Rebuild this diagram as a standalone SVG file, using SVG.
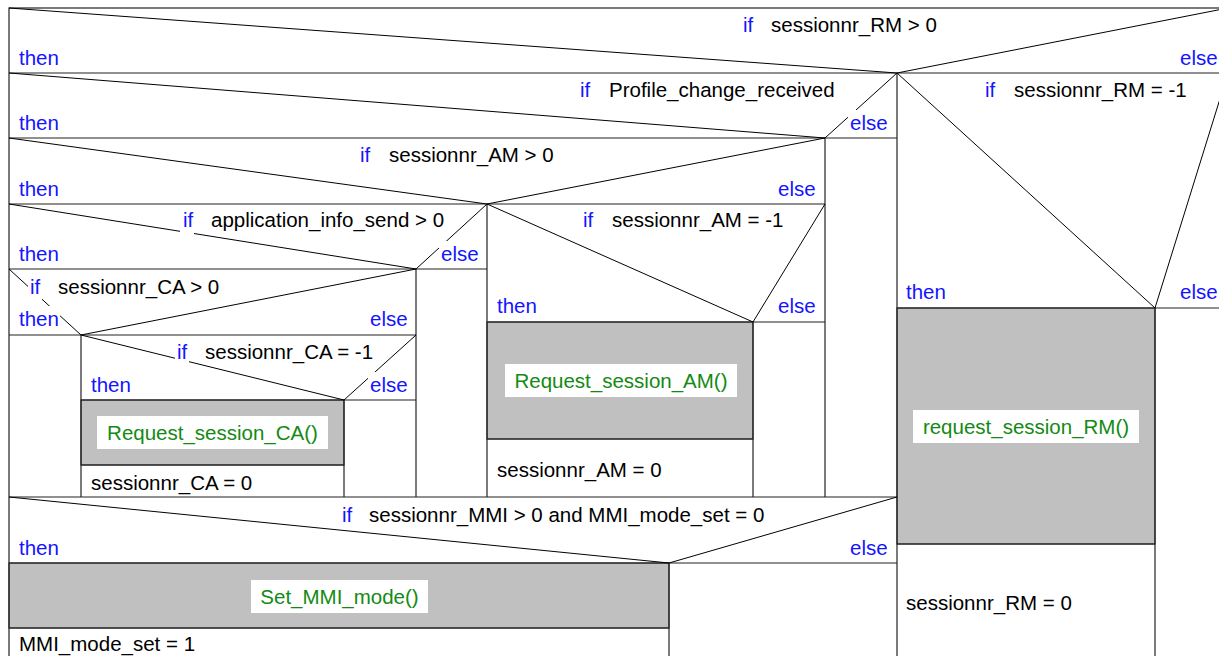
<svg xmlns="http://www.w3.org/2000/svg" width="1219" height="656" viewBox="0 0 1219 656">
<style>
text{font-family:"Liberation Sans",Arial,sans-serif;font-size:20.5px}
.kw{fill:#1414ff}
.tx{fill:#000}
.call{fill:#138a13}
.act{fill:#c0c0c0;stroke:#333;stroke-width:1.2}
.ln{stroke:#222;stroke-width:1.2;fill:none}
.dg{stroke:#000;stroke-width:1;fill:none}
.bg{fill:#fff;stroke:none}
</style>
<rect x="0" y="0" width="1219" height="656" fill="#fff"/>

<g id="actions">
  <rect class="act" x="81" y="400" width="263" height="65"/>
  <rect class="act" x="487" y="322" width="266" height="117"/>
  <rect class="act" x="897" y="308" width="258" height="236"/>
  <rect class="act" x="9" y="563" width="660" height="65"/>
</g>

<g id="structure">
  <rect class="ln" x="9" y="8" width="1219" height="653"/>
  <line class="ln" x1="9" y1="73" x2="1228" y2="73"/>
  <line class="ln" x1="897" y1="73" x2="897" y2="661"/>
  <line class="ln" x1="9" y1="138" x2="897" y2="138"/>
  <line class="ln" x1="825" y1="138" x2="825" y2="497"/>
  <line class="ln" x1="9" y1="204" x2="825" y2="204"/>
  <line class="ln" x1="487" y1="204" x2="487" y2="497"/>
  <line class="ln" x1="9" y1="269" x2="487" y2="269"/>
  <line class="ln" x1="416" y1="269" x2="416" y2="497"/>
  <line class="ln" x1="9" y1="335" x2="416" y2="335"/>
  <line class="ln" x1="81" y1="335" x2="81" y2="497"/>
  <line class="ln" x1="81" y1="400" x2="416" y2="400"/>
  <line class="ln" x1="344" y1="400" x2="344" y2="497"/>
  <line class="ln" x1="487" y1="322" x2="825" y2="322"/>
  <line class="ln" x1="753" y1="322" x2="753" y2="497"/>
  <line class="ln" x1="9" y1="497" x2="897" y2="497"/>
  <line class="ln" x1="9" y1="563" x2="897" y2="563"/>
  <line class="ln" x1="669" y1="563" x2="669" y2="661"/>
  <line class="ln" x1="9" y1="628" x2="669" y2="628"/>
  <line class="ln" x1="897" y1="308" x2="1228" y2="308"/>
  <line class="ln" x1="1155" y1="308" x2="1155" y2="661"/>
  <line class="ln" x1="897" y1="544" x2="1155" y2="544"/>
  <line class="ln" x1="81" y1="465" x2="344" y2="465"/>
  <line class="ln" x1="487" y1="439" x2="753" y2="439"/>
</g>

<g id="connectors">
  <polyline class="dg" points="9,8 897,73 1228,8"/>
  <polyline class="dg" points="9,73 825,138 897,73"/>
  <polyline class="dg" points="9,138 487,204 825,138"/>
  <polyline class="dg" points="9,204 416,269 487,204"/>
  <polyline class="dg" points="9,269 81,335 416,269"/>
  <polyline class="dg" points="81,335 344,400 416,335"/>
  <polyline class="dg" points="487,204 753,322 825,204"/>
  <polyline class="dg" points="897,73 1155,308 1228,73"/>
  <polyline class="dg" points="9,497 669,563 897,497"/>
</g>

<g id="label-bg">
  <rect class="bg" x="848" y="110" width="41" height="25"/>
  <rect class="bg" x="180" y="207" width="14" height="28"/>
  <rect class="bg" x="439" y="241" width="41" height="25"/>
  <rect class="bg" x="28" y="274" width="14" height="26"/>
  <rect class="bg" x="17" y="306" width="43" height="26"/>
  <rect class="bg" x="175" y="339" width="14" height="26"/>
  <rect class="bg" x="368" y="372" width="41" height="25"/>
</g>

<g id="cond-RM-gt0">
  <text class="kw" x="743" y="32">if</text>
  <text class="tx" x="771" y="32">sessionnr_RM &gt; 0</text>
  <text class="kw" x="19" y="65">then</text>
  <text class="kw" x="1180" y="65">else</text>
</g>
<g id="cond-profile">
  <text class="kw" x="580" y="97">if</text>
  <text class="tx" x="609" y="97">Profile_change_received</text>
  <text class="kw" x="19" y="130">then</text>
  <text class="kw" x="850" y="130">else</text>
</g>
<g id="cond-RM-m1">
  <text class="kw" x="985" y="97">if</text>
  <text class="tx" x="1014" y="97">sessionnr_RM = -1</text>
  <text class="kw" x="906" y="299">then</text>
  <text class="kw" x="1180" y="299">else</text>
</g>
<g id="cond-AM-gt0">
  <text class="kw" x="360" y="162">if</text>
  <text class="tx" x="389" y="162">sessionnr_AM &gt; 0</text>
  <text class="kw" x="19" y="196">then</text>
  <text class="kw" x="778" y="196">else</text>
</g>
<g id="cond-appinfo">
  <text class="kw" x="183" y="227">if</text>
  <text class="tx" x="211" y="227">application_info_send &gt; 0</text>
  <text class="kw" x="19" y="261">then</text>
  <text class="kw" x="441" y="261">else</text>
</g>
<g id="cond-AM-m1">
  <text class="kw" x="583" y="227">if</text>
  <text class="tx" x="612" y="227">sessionnr_AM = -1</text>
  <text class="kw" x="497" y="313">then</text>
  <text class="kw" x="778" y="313">else</text>
</g>
<g id="cond-CA-gt0">
  <text class="kw" x="30" y="294">if</text>
  <text class="tx" x="58" y="294">sessionnr_CA &gt; 0</text>
  <text class="kw" x="19" y="326">then</text>
  <text class="kw" x="370" y="326">else</text>
</g>
<g id="cond-CA-m1">
  <text class="kw" x="177" y="359">if</text>
  <text class="tx" x="205" y="359">sessionnr_CA = -1</text>
  <text class="kw" x="91" y="392">then</text>
  <text class="kw" x="370" y="392">else</text>
</g>
<g id="call-CA">
  <rect class="bg" x="97" y="416" width="231" height="33"/>
  <text class="call" x="212.5" y="440" text-anchor="middle">Request_session_CA()</text>
</g>
<g id="stmt-CA">
  <text class="tx" x="91" y="490">sessionnr_CA = 0</text>
</g>
<g id="call-AM">
  <rect class="bg" x="505" y="364" width="232" height="33"/>
  <text class="call" x="621" y="388" text-anchor="middle">Request_session_AM()</text>
</g>
<g id="stmt-AM">
  <text class="tx" x="497" y="477">sessionnr_AM = 0</text>
</g>
<g id="call-RM">
  <rect class="bg" x="913" y="410" width="226" height="33"/>
  <text class="call" x="1026" y="434" text-anchor="middle">request_session_RM()</text>
</g>
<g id="stmt-RM">
  <text class="tx" x="906" y="610">sessionnr_RM = 0</text>
</g>
<g id="cond-MMI">
  <text class="kw" x="342" y="522">if</text>
  <text class="tx" x="369" y="522">sessionnr_MMI &gt; 0 and MMI_mode_set = 0</text>
  <text class="kw" x="19" y="555">then</text>
  <text class="kw" x="850" y="555">else</text>
</g>
<g id="call-MMI">
  <rect class="bg" x="251" y="580" width="177" height="33"/>
  <text class="call" x="339.5" y="604" text-anchor="middle">Set_MMI_mode()</text>
</g>
<g id="stmt-MMI">
  <text class="tx" x="19" y="651">MMI_mode_set = 1</text>
</g>
</svg>
